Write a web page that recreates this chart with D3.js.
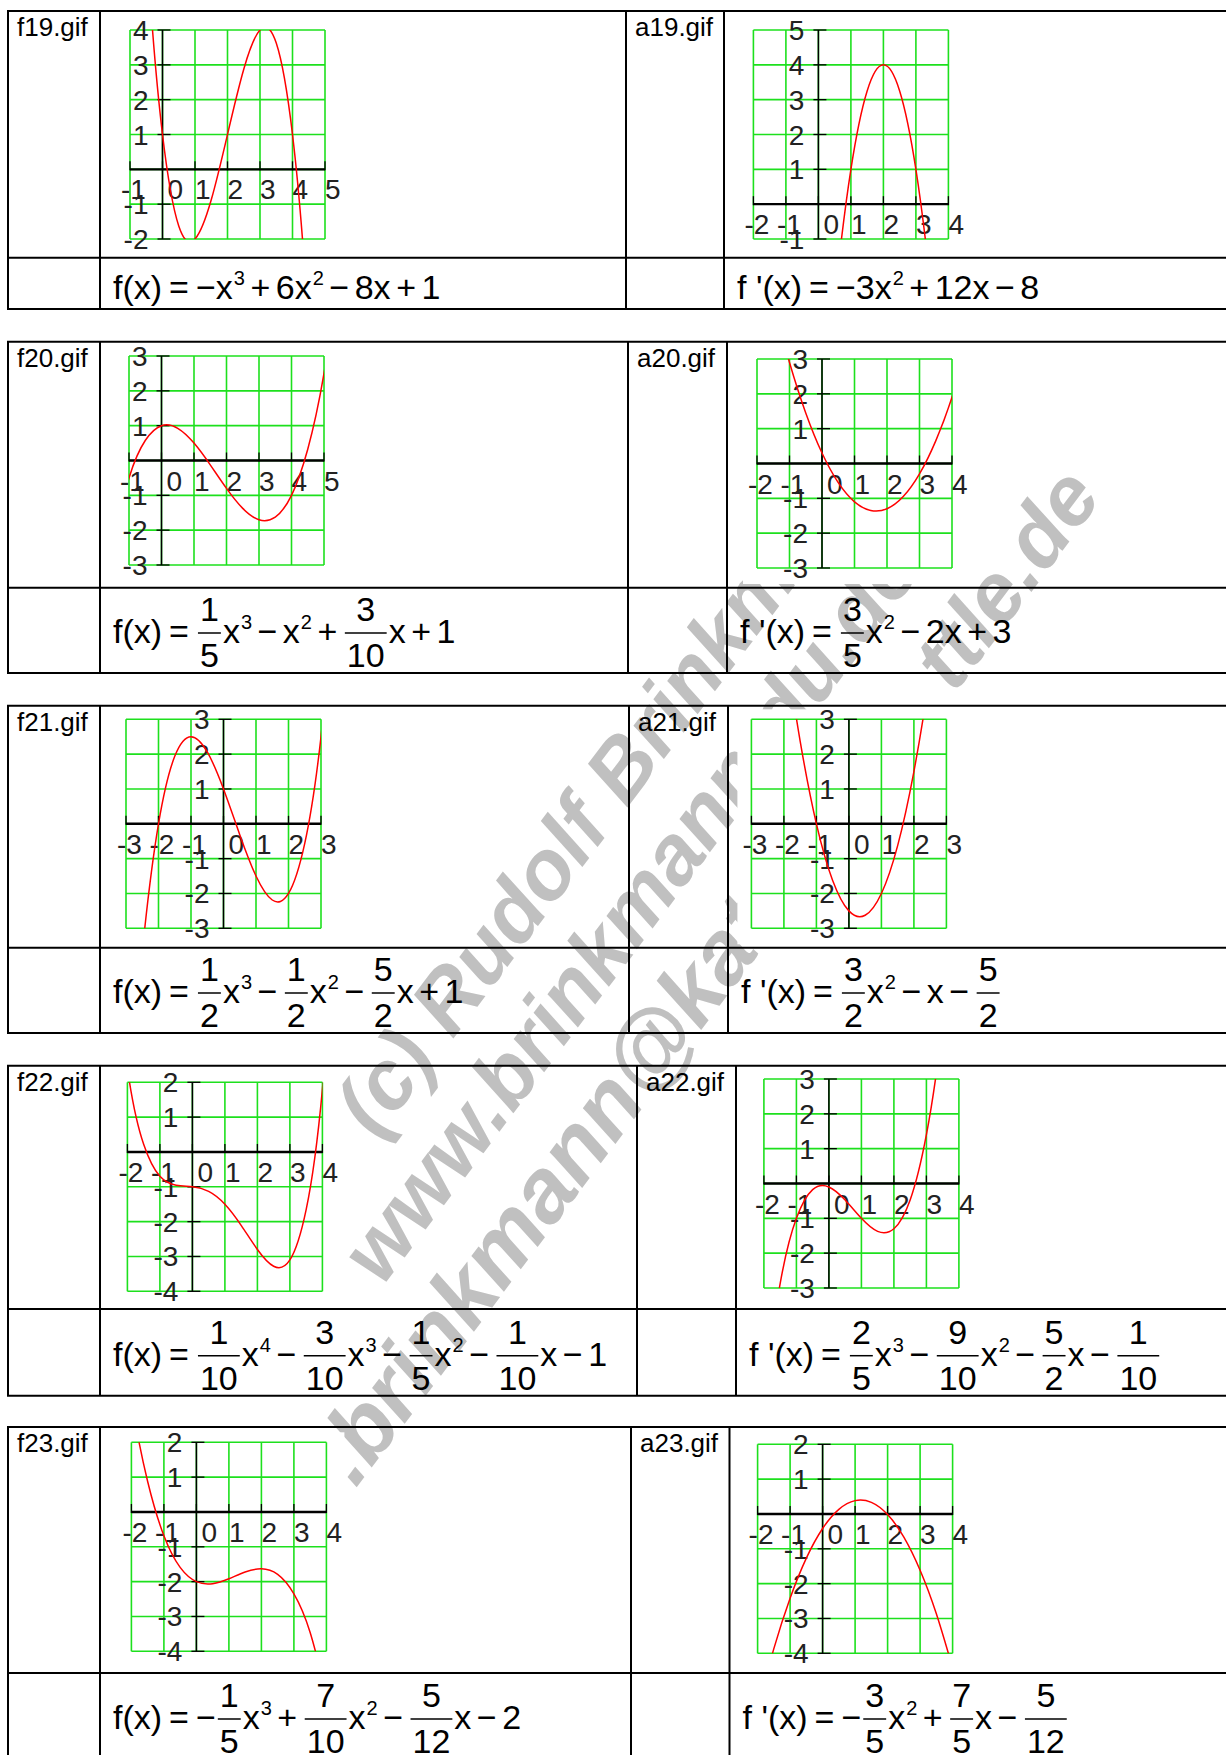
<!DOCTYPE html>
<html>
<head>
<meta charset="utf-8">
<script src="https://cdn.jsdelivr.net/npm/d3@7"></script>
<style>
  body { margin: 0; background: #fff; }
</style>
</head>
<body>
<div id="page"></div>
<script>
// Names of the pictures, in reading order (left / right per table)
const plotNames = ["f19.gif", "a19.gif", "f20.gif", "a20.gif", "f21.gif", "a21.gif", "f22.gif", "a22.gif", "f23.gif", "a23.gif"];

// Axis ranges of every little plot
const xDomains = [[-1, 5], [-2, 4], [-1, 5], [-2, 4], [-3, 3], [-3, 3], [-2, 4], [-2, 4], [-2, 4], [-2, 4]];
const yDomains = [[-2, 4], [-1, 5], [-3, 3], [-3, 3], [-3, 3], [-3, 3], [-4, 2], [-3, 3], [-4, 2], [-4, 2]];

// Formulas under the plots ({a/b} = fraction, ^n = exponent)
const formulas = [
  "f(x) = −x^3 + 6x^2 − 8x + 1",
  "f\u00a0'(x) = −3x^2 + 12x − 8",
  "f(x) = {1/5}x^3 − x^2 + {3/10}x + 1",
  "f\u00a0'(x) = {3/5}x^2 − 2x + 3",
  "f(x) = {1/2}x^3 − {1/2}x^2 − {5/2}x + 1",
  "f\u00a0'(x) = {3/2}x^2 − x − {5/2}",
  "f(x) = {1/10}x^4 − {3/10}x^3 − {1/5}x^2 − {1/10}x − 1",
  "f\u00a0'(x) = {2/5}x^3 − {9/10}x^2 − {5/2}x − {1/10}",
  "f(x) = −{1/5}x^3 + {7/10}x^2 − {5/12}x − 2",
  "f\u00a0'(x) = −{3/5}x^2 + {7/5}x − {5/12}"
];

// Curve points [x, y]
const f19Pts = [[-1, 16], [-0.5, 6.625], [0, 1], [0.5, -1.625], [1, -2], [1.5, -0.875], [2, 1], [2.5, 2.875], [3, 4], [3.5, 3.625], [4, 1], [4.5, -4.625], [5, -14]];
const a19Pts = [[-0.5, -14.75], [0, -8], [0.5, -2.75], [1, 1], [1.5, 3.25], [2, 4], [2.5, 3.25], [3, 1], [3.5, -2.75], [4, -8], [4.5, -14.75]];
const f20Pts = [[-1.5, -2.375], [-1, -0.5], [-0.5, 0.575], [0, 1], [0.5, 0.925], [1, 0.5], [1.5, -0.125], [2, -0.8], [2.5, -1.375], [3, -1.7], [3.5, -1.625], [4, -1], [4.5, 0.325], [5, 2.5], [5.5, 5.675]];
const a20Pts = [[-2, 6.7], [-1.5, 4.65], [-1, 2.9], [-0.5, 1.45], [0, 0.3], [0.5, -0.55], [1, -1.1], [1.5, -1.35], [2, -1.3], [2.5, -0.95], [3, -0.3], [3.5, 0.65], [4, 1.9], [4.5, 3.45]];
const f21Pts = [[-3.5, -17.81], [-3, -9.5], [-2.5, -3.6875], [-2, 0], [-1.5, 1.9375], [-1, 2.5], [-0.5, 2.0625], [0, 1], [0.5, -0.3125], [1, -1.5], [1.5, -2.1875], [2, -2], [2.5, -0.5625], [3, 2.5], [3.5, 7.5625]];
const a21Pts = [[-2.5, 9.375], [-2, 5.5], [-1.5, 2.375], [-1, 0], [-0.5, -1.625], [0, -2.5], [0.5, -2.625], [1, -2], [1.5, -0.625], [2, 1.5], [2.5, 4.375], [3, 8]];
const f22Pts = [[-2.5, 6.594], [-2, 2.4], [-1.5, 0.219], [-1, -0.7], [-0.5, -0.956], [0, -1], [0.5, -1.131], [1, -1.5], [1.5, -2.106], [2, -2.8], [2.5, -3.281], [3, -3.1], [3.5, -1.656], [4, 1.8], [4.5, 8.169]];
const a22Pts = [[-2, -6.1], [-1.5, -2.875], [-1, -1], [-0.5, -0.175], [0, -0.1], [0.5, -0.475], [1, -1], [1.5, -1.375], [2, -1.3], [2.5, -0.475], [3, 1.4], [3.5, 4.625], [4, 9.5]];
const f23Pts = [[-2.5, 6.542], [-2, 3.233], [-1.5, 0.875], [-1, -0.683], [-0.5, -1.592], [0, -2], [0.5, -2.058], [1, -1.917], [1.5, -1.725], [2, -1.633], [2.5, -1.792], [3, -2.35], [3.5, -3.458], [4, -5.267]];
const a23Pts = [[-2, -5.617], [-1.5, -3.867], [-1, -2.417], [-0.5, -1.267], [0, -0.417], [0.5, 0.133], [1, 0.383], [1.5, 0.333], [2, -0.017], [2.5, -0.667], [3, -1.617], [3.5, -2.867], [4, -4.417]];
const curves = [f19Pts, a19Pts, f20Pts, a20Pts, f21Pts, a21Pts, f22Pts, a22Pts, f23Pts, a23Pts];

// Watermark pieces
const watermark = ["(c) Rudolf Brinkmann", "www.brinkmann-du.de", ".brinkmann@kat", "ttle.de"];

// ---- layout (page pixels) ----
const W = 1226, H = 1755;
const tables = [
  { top: 11, mid: 257.7, bottom: 309, cols: [8, 100, 626, 724] },
  { top: 341.7, mid: 587.7, bottom: 673, cols: [8, 100, 628, 727] },
  { top: 705.7, mid: 947.7, bottom: 1033, cols: [8, 100, 629, 728] },
  { top: 1065.7, mid: 1309, bottom: 1395.7, cols: [8, 100, 637, 736] },
  { top: 1427, mid: 1673, bottom: 1759, cols: [8, 100, 631, 729.5] }
];
const plotBoxes = [[130, 30], [753.4, 30], [129, 356], [757, 359], [126, 719.3], [751.4, 719.3],
                   [127.4, 1082.3], [763.9, 1079], [131.4, 1442.3], [757.6, 1444.3]];
const gridW = 195, gridH = 209;
// position (in the rotated frame) and size of each watermark piece
const wmPos = [[-684, 987, 84], [-798, 1080, 84], [-975, 1180, 90], [20, 1180, 84]];

const svg = d3.select("#page").append("svg")
    .attr("width", W)
    .attr("height", H)
    .style("display", "block");

svg.append("rect").attr("width", W).attr("height", H).attr("fill", "#fff");

// Watermark sits behind everything
const wm = svg.append("g").attr("transform", "rotate(-53)");
watermark.forEach((s, i) => {
  wm.append("text")
      .attr("x", wmPos[i][0])
      .attr("y", wmPos[i][1])
      .attr("font-family", "'Liberation Sans', Arial, sans-serif")
      .attr("font-weight", "bold")
      .attr("font-style", "italic")
      .attr("font-size", wmPos[i][2])
      .attr("fill", "#c0c0c0")
      .text(s);
});

// Plots
const green = "#1de01d";
const labelFont = "'Liberation Sans Narrow', 'Arial Narrow', 'Liberation Sans', sans-serif";
const defs = svg.append("defs");

plotNames.forEach((name, i) => {
  const [px, py] = plotBoxes[i];
  const x = d3.scaleLinear().domain(xDomains[i]).range([px, px + gridW]);
  const y = d3.scaleLinear().domain(yDomains[i]).range([py + gridH, py]);
  const xt = d3.range(xDomains[i][0], xDomains[i][1] + 1);
  const yt = d3.range(yDomains[i][0], yDomains[i][1] + 1);
  const g = svg.append("g");

  // white picture background hides the watermark
  g.append("rect")
      .attr("x", px - 14).attr("y", py - 10)
      .attr("width", gridW + 32).attr("height", gridH + 26)
      .attr("fill", "#fff");

  // grid
  g.selectAll("line.gx").data(xt).join("line")
      .attr("class", "gx")
      .attr("x1", d => x(d)).attr("x2", d => x(d))
      .attr("y1", py).attr("y2", py + gridH)
      .attr("stroke", green).attr("stroke-width", 1.6);
  g.selectAll("line.gy").data(yt).join("line")
      .attr("class", "gy")
      .attr("x1", px).attr("x2", px + gridW)
      .attr("y1", d => y(d)).attr("y2", d => y(d))
      .attr("stroke", green).attr("stroke-width", 1.6);

  // axes
  const x0 = x(0), y0 = y(0);
  g.append("line")
      .attr("x1", px).attr("x2", px + gridW).attr("y1", y0).attr("y2", y0)
      .attr("stroke", "#000").attr("stroke-width", 2.4);
  g.append("line")
      .attr("x1", x0).attr("x2", x0).attr("y1", py).attr("y2", py + gridH)
      .attr("stroke", "#000").attr("stroke-width", 1.5);
  g.selectAll("line.tx").data(xt).join("line")
      .attr("class", "tx")
      .attr("x1", d => x(d)).attr("x2", d => x(d))
      .attr("y1", y0 - 8).attr("y2", y0 + 1)
      .attr("stroke", "#000").attr("stroke-width", 1.3);
  g.selectAll("line.ty").data(yt.filter(d => d !== 0)).join("line")
      .attr("class", "ty")
      .attr("x1", x0 - 5).attr("x2", x0 + 8)
      .attr("y1", d => y(d)).attr("y2", d => y(d))
      .attr("stroke", "#000").attr("stroke-width", 1.3);

  // tick labels
  g.selectAll("text.lx").data(xt).join("text")
      .attr("class", "lx")
      .attr("x", d => x(d) + (d < 0 ? -9 : d === 0 ? 5 : 0))
      .attr("y", y0 + 30)
      .attr("font-family", labelFont).attr("font-size", 28)
      .attr("fill", "#222")
      .text(d => d < 0 ? "-" + (-d) : d);
  g.selectAll("text.ly").data(yt.filter(d => d !== 0)).join("text")
      .attr("class", "ly")
      .attr("x", x0 - 14)
      .attr("y", d => y(d) + 10)
      .attr("text-anchor", "end")
      .attr("font-family", labelFont).attr("font-size", 28)
      .attr("fill", "#222")
      .text(d => d < 0 ? "-" + (-d) : d);

  // curve, clipped to the grid
  defs.append("clipPath").attr("id", "clip" + i)
    .append("rect").attr("x", px).attr("y", py).attr("width", gridW).attr("height", gridH);
  g.append("path")
      .datum(curves[i])
      .attr("d", d3.line().x(d => x(d[0])).y(d => y(d[1])).curve(d3.curveNatural))
      .attr("clip-path", `url(#clip${i})`)
      .attr("fill", "none")
      .attr("stroke", "#ff0000")
      .attr("stroke-width", 1.5);
});

// Table borders
tables.forEach(t => {
  [t.top, t.mid, t.bottom].forEach(v => {
    svg.append("line")
        .attr("x1", t.cols[0] - 1).attr("x2", W + 20)
        .attr("y1", v).attr("y2", v)
        .attr("stroke", "#000").attr("stroke-width", 2);
  });
  t.cols.forEach(v => {
    svg.append("line")
        .attr("x1", v).attr("x2", v)
        .attr("y1", t.top).attr("y2", t.bottom)
        .attr("stroke", "#000").attr("stroke-width", 2);
  });
});

// Picture names
plotNames.forEach((name, i) => {
  const t = tables[Math.floor(i / 2)];
  svg.append("text")
      .attr("x", t.cols[i % 2 ? 2 : 0] + 9)
      .attr("y", t.top + 25)
      .attr("font-family", "'Liberation Sans', Arial, sans-serif")
      .attr("font-size", 26)
      .attr("fill", "#000")
      .text(name);
});

// Formulas
const fs = 34, supFs = 20;
const fontMain = "'Liberation Sans', Arial, sans-serif";

function put(g, s, x, y, size, anchor) {
  const t = g.append("text")
      .attr("x", x).attr("y", y)
      .attr("font-family", fontMain)
      .attr("font-size", size)
      .attr("text-anchor", anchor || "start")
      .attr("fill", "#000")
      .text(s);
  return t.node().getComputedTextLength();
}

function drawFormula(str, x0, base) {
  const g = svg.append("g");
  const bar = base - 10;
  let x = x0;
  str.split(" ").forEach(tok => {
    if (tok === "=" || tok === "+" || tok === "−") {
      const gap = tok === "=" ? 7 : 5.5;
      x += gap;
      x += put(g, tok, x, base, fs);
      x += gap;
      return;
    }
    tok.match(/\{\d+\/\d+\}|\^\d+|[^{^]+/g).forEach(p => {
      if (p[0] === "{") {
        const [num, den] = p.slice(1, -1).split("/");
        const tmp = svg.append("text").attr("font-family", fontMain).attr("font-size", fs);
        const nw = tmp.text(num).node().getComputedTextLength();
        const dw = tmp.text(den).node().getComputedTextLength();
        tmp.remove();
        const w = Math.max(nw, dw) + 4;
        x += 2;
        put(g, num, x + w / 2, bar - 12, fs, "middle");
        put(g, den, x + w / 2, bar + 34, fs, "middle");
        g.append("line")
            .attr("x1", x).attr("x2", x + w)
            .attr("y1", bar).attr("y2", bar)
            .attr("stroke", "#000").attr("stroke-width", 1.5);
        x += w + 2;
      } else if (p[0] === "^") {
        x += 1;
        x += put(g, p.slice(1), x, base - 14, supFs);
      } else {
        x += put(g, p, x, base, fs);
      }
    });
  });
}

formulas.forEach((f, i) => {
  const t = tables[Math.floor(i / 2)];
  const hasFrac = f.includes("{");
  const base = hasFrac ? t.bottom - 30 : t.bottom - 10;
  drawFormula(f, t.cols[i % 2 ? 3 : 1] + 13, base);
});
</script>
</body>
</html>
